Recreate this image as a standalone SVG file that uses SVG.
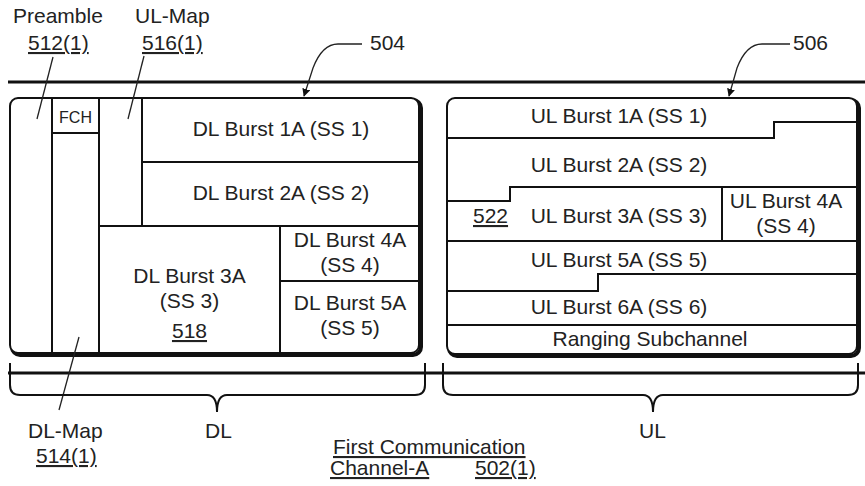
<svg xmlns="http://www.w3.org/2000/svg" width="865" height="486" viewBox="0 0 865 486">
<style>
text{font-family:"Liberation Sans",Arial,sans-serif;font-size:21px;fill:#222;}
.c{text-anchor:middle;}
.u{text-decoration:underline;}
.ln{stroke:#111;stroke-width:2;fill:none;}
.thin{stroke:#222;stroke-width:1.3;fill:none;}
.frame{stroke:#111;stroke-width:2;fill:#fff;}
.shadow{stroke:#111;stroke-width:4;fill:none;}
.bar{stroke:#111;stroke-width:3;fill:none;}
</style>
<defs>
<marker id="arr" viewBox="0 0 10 10" refX="9" refY="5" markerWidth="8" markerHeight="8" orient="auto-start-reverse" markerUnits="userSpaceOnUse">
<path d="M0,0 L10,5 L0,10 z" fill="#111"/>
</marker>
</defs>
<rect width="865" height="486" fill="#fff"/>
<g id="rails">
<line class="bar" x1="8" y1="82" x2="865" y2="82"/>
<line class="bar" x1="8" y1="373" x2="865" y2="373"/>
</g>
<g id="dl-frame">
<rect class="shadow" x="12" y="100" width="409" height="255" rx="8"/>
<rect class="frame" x="10" y="98" width="409" height="255" rx="8"/>
<path class="ln" d="M52,98V353 M99,98V353 M52,133H99 M142,98V226 M142,162H419 M99,226H419 M280,226V353 M280,281H419"/>
</g>
<g id="fch"><text class="c" x="75.5" y="123" style="font-size:16px">FCH</text></g>
<g id="dl-burst-1a"><text class="c" x="281" y="136">DL Burst 1A (SS 1)</text></g>
<g id="dl-burst-2a"><text class="c" x="281" y="200">DL Burst 2A (SS 2)</text></g>
<g id="dl-burst-3a">
<text class="c" x="189.5" y="283">DL Burst 3A</text>
<text class="c" x="189.5" y="308">(SS 3)</text>
<text class="c u" x="189.5" y="338">518</text>
</g>
<g id="dl-burst-4a">
<text class="c" x="350" y="247">DL Burst 4A</text>
<text class="c" x="350" y="272">(SS 4)</text>
</g>
<g id="dl-burst-5a">
<text class="c" x="350" y="310">DL Burst 5A</text>
<text class="c" x="350" y="335">(SS 5)</text>
</g>
<g id="ul-frame">
<rect class="shadow" x="449" y="100" width="410" height="256" rx="8"/>
<rect class="frame" x="447" y="98" width="410" height="256" rx="8"/>
<path class="ln" d="M447,138H774V122H857 M447,201H510V187H857 M722,187V241 M447,241H857 M447,291H598V274H857 M447,325H857"/>
</g>
<g id="ul-burst-1a"><text class="c" x="619" y="123">UL Burst 1A (SS 1)</text></g>
<g id="ul-burst-2a"><text class="c" x="619" y="172">UL Burst 2A (SS 2)</text></g>
<g id="ul-burst-3a"><text class="c" x="619" y="223">UL Burst 3A (SS 3)</text><text class="u" x="473" y="223">522</text></g>
<g id="ul-burst-4a">
<text class="c" x="786" y="208">UL Burst 4A</text>
<text class="c" x="786" y="233">(SS 4)</text>
</g>
<g id="ul-burst-5a"><text class="c" x="619" y="267">UL Burst 5A (SS 5)</text></g>
<g id="ul-burst-6a"><text class="c" x="619" y="314">UL Burst 6A (SS 6)</text></g>
<g id="ranging"><text class="c" x="650" y="346">Ranging Subchannel</text></g>
<g id="label-preamble">
<text x="13" y="23">Preamble</text>
<text class="u" x="28" y="50">512(1)</text>
</g>
<g id="label-ulmap">
<text x="135" y="23">UL-Map</text>
<text class="u" x="142" y="50">516(1)</text>
</g>
<g id="label-dlmap">
<text x="28" y="438">DL-Map</text>
<text class="u" x="36" y="463">514(1)</text>
</g>
<g id="label-504"><text x="370" y="50">504</text></g>
<g id="label-506"><text x="793" y="50">506</text></g>
<g id="label-dl"><text x="205" y="438">DL</text></g>
<g id="label-ul"><text x="639" y="438">UL</text></g>
<g id="label-channel">
<text class="u" x="333" y="454">First Communication</text>
<text class="u" x="330" y="475">Channel-A</text>
<text class="u" x="475" y="475">502(1)</text>
</g>
<g id="connectors">
<line class="thin" x1="53" y1="57" x2="37" y2="119"/>
<line class="thin" x1="144" y1="56" x2="128" y2="119"/>
<line class="thin" x1="79" y1="337" x2="59" y2="410"/>
<path class="thin" d="M362,44H338C325,44 318,55 313,68L304,96" marker-end="url(#arr)"/>
<path class="thin" d="M790,44H762C749,44 742,55 737,68L729,96" marker-end="url(#arr)"/>
<path class="ln" d="M10,363V385Q10,395 20,395H207Q217,395 217,412Q217,395 227,395H415Q425,395 425,385V363"/>
<path class="ln" d="M443,363V385Q443,395 453,395H643Q653,395 653,412Q653,395 663,395H848Q858,395 858,385V363"/>
</g>
</svg>
